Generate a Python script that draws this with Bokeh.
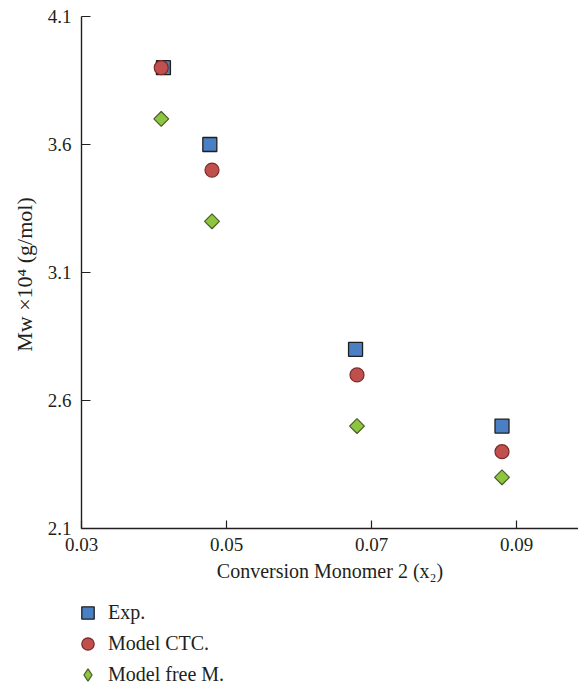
import numpy as np
from bokeh.plotting import figure
from bokeh.models import Range1d, FixedTicker, Legend, LegendItem, LinearAxis, Label
from bokeh.embed import file_html
from bokeh.resources import INLINE

# Data
x_exp = [0.0413, 0.0477, 0.0678, 0.0880]
y_exp = [3.9, 3.6, 2.8, 2.5]
x_ctc = [0.0410, 0.0480, 0.0680, 0.0880]
y_ctc = [3.9, 3.5, 2.7, 2.4]
x_free = [0.0410, 0.0480, 0.0680, 0.0880]
y_free = [3.7, 3.3, 2.5, 2.3]
x_ticks = [0.03, 0.05, 0.07, 0.09]
y_ticks = [2.1, 2.6, 3.1, 3.6, 4.1]
x_tick_labels = ["0.03", "0.05", "0.07", "0.09"]
y_tick_labels = ["2.1", "2.6", "3.1", "3.6", "4.1"]
series_names = ["Exp.", "Model CTC.", "Model free M."]
x_title = "Conversion Monomer 2 (x\u2082)"
y_title = "Mw \u00d710\u2074 (g/mol)"

FONT = "Liberation Serif"
AXC = "#231f20"
X_MIN = 0.03
Y_MIN, Y_MAX = 2.1, 4.1

# The frame covers the whole canvas; the axes sit at fixed data positions,
# so nothing (tick labels, legend) gets clipped.
W, H = 578, 686
PX_X = 0.02 / 145.0   # data units per pixel (x)
PX_Y = 0.5 / 128.0    # data units per pixel (y)
x_lo = X_MIN - 81 * PX_X
x_hi = X_MIN + (W - 81) * PX_X
y_hi = Y_MAX + 16 * PX_Y
y_lo = Y_MAX - (H - 16) * PX_Y

p = figure(width=W, height=H, min_border=0,
           x_range=Range1d(x_lo, x_hi), y_range=Range1d(y_lo, y_hi),
           x_axis_location=None, y_axis_location=None,
           output_backend="svg", toolbar_location=None)
p.outline_line_color = None
p.xgrid.visible = False
p.ygrid.visible = False
p.background_fill_color = "white"
p.border_fill_color = "white"

xaxis = LinearAxis(fixed_location=Y_MIN, bounds=(X_MIN, x_hi))
yaxis = LinearAxis(fixed_location=X_MIN, bounds=(Y_MIN, Y_MAX))
p.add_layout(xaxis, "below")
p.add_layout(yaxis, "left")

for ax in (xaxis, yaxis):
    ax.axis_line_color = AXC
    ax.axis_line_width = 1.4
    ax.major_tick_line_color = AXC
    ax.major_tick_line_width = 1.2
    ax.minor_tick_line_color = None
    ax.major_tick_out = 0
    ax.major_label_text_font = FONT
    ax.major_label_text_font_size = "19px"
    ax.major_label_text_color = "#231f20"

xaxis.ticker = FixedTicker(ticks=x_ticks)
xaxis.major_label_overrides = dict(zip(x_ticks, x_tick_labels))
xaxis.major_tick_in = 8
xaxis.major_label_standoff = 9

yaxis.ticker = FixedTicker(ticks=y_ticks)
yaxis.major_label_overrides = dict(zip(y_ticks, y_tick_labels))
yaxis.major_tick_in = 9
yaxis.major_label_standoff = 10

# axis titles, centred on the axes
p.add_layout(Label(x=329.5, y=H - 570, x_units="screen", y_units="screen",
                   text=x_title, text_font=FONT, text_font_size="20px",
                   text_color="#231f20", text_align="center", text_baseline="alphabetic"))
p.add_layout(Label(x=24, y=H - 274, x_units="screen", y_units="screen",
                   text=y_title, text_font=FONT, text_font_size="22px", angle=np.pi / 2,
                   text_color="#231f20", text_align="center", text_baseline="middle"))

# legend proxy for the diamond (drawn first, hidden under the real markers)
l_free = p.scatter(x_free, y_free, marker="diamond", size=13,
                   fill_color="#8cc63f", line_color="#4d5a2a", line_width=1.2)

r_exp = p.scatter(x_exp, y_exp, marker="square", size=14,
                  fill_color="#4a7fc4", line_color="#1f1f1f", line_width=1.3)
r_ctc = p.scatter(x_ctc, y_ctc, marker="circle", size=14,
                  fill_color="#c0504d", line_color="#7b2a28", line_width=1.2)
r_free = p.scatter(x_free, y_free, marker="square", size=10.5, angle=np.pi / 4,
                   fill_color="#8cc63f", line_color="#4d5a2a", line_width=1.2)

legend = Legend(items=[LegendItem(label=series_names[0], renderers=[r_exp]),
                       LegendItem(label=series_names[1], renderers=[r_ctc]),
                       LegendItem(label=series_names[2], renderers=[l_free])],
                location=(72, -4), orientation="vertical",
                margin=0, padding=0, spacing=0,
                glyph_width=31, glyph_height=31, label_height=31,
                label_standoff=5,
                label_text_font=FONT, label_text_font_size="20px",
                label_text_color="#231f20", label_text_baseline="middle",
                border_line_color=None, background_fill_alpha=0)
p.add_layout(legend, "center")

open("out.html", "w").write(file_html(p, INLINE))
